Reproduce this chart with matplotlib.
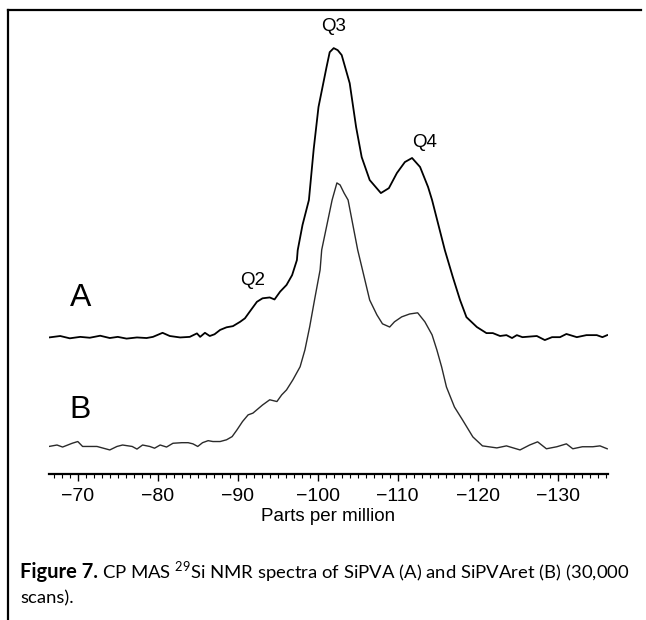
import matplotlib
matplotlib.use("Agg")
import matplotlib.pyplot as plt
from matplotlib.lines import Line2D
from matplotlib.ticker import MultipleLocator, FixedLocator

# Spectrum A (SiPVA): chemical shift (ppm) and intensity above its own baseline
ppm_a = [-66.4, -67.8, -69.0, -70.3, -71.5, -72.8, -74.0, -75.0, -76.1, -77.4,
         -78.6, -79.4, -80.6, -81.5, -82.8, -84.0, -84.9, -85.3, -85.9, -86.5,
         -87.1, -87.8, -88.6, -89.4, -90.3, -90.9, -91.5, -92.4, -93.1, -94.0,
         -94.6, -95.3, -96.1, -96.8, -97.4, -97.5, -98.1, -98.9, -99.5, -100.1,
         -101.1, -101.5, -102.0, -102.5, -103.0, -104.0, -104.8, -105.5, -106.5, -107.9,
         -108.9, -109.9, -110.9, -111.8, -112.8, -113.8, -114.3, -115.9, -116.9, -117.8,
         -118.6, -119.9, -121.1, -121.9, -122.8, -123.6, -124.3, -124.9, -125.6, -127.4,
         -128.4, -129.3, -130.3, -131.1, -132.4, -133.6, -134.9, -135.6, -136.2]
int_a = [0.2, 0.7, -0.1, 0.4, 0.1, 0.8, 0.0, 0.4, -0.2, 0.2,
         0.0, 0.4, 1.8, 0.7, 0.2, 0.4, 1.6, 0.4, 1.8, 0.7,
         1.3, 2.8, 3.7, 4.1, 5.6, 6.8, 9.1, 12.5, 13.7, 14.0,
         13.3, 16.0, 18.3, 21.7, 26.9, 30.3, 39.0, 47.6, 65.2, 79.7,
         93.4, 98.6, 100.0, 99.3, 97.6, 87.9, 72.8, 62.4, 54.5, 50.0,
         51.7, 56.9, 60.7, 62.1, 59.0, 52.1, 47.6, 30.3, 21.0, 13.1,
         7.2, 3.8, 1.7, 1.7, 0.7, 1.0, 0.0, 1.0, 0.3, 0.7,
         -0.7, 0.3, 0.3, 1.4, 0.3, 1.0, 1.0, 0.3, 1.0]

# Spectrum B (SiPVAret)
ppm_b = [-66.4, -67.4, -68.1, -69.3, -70.0, -70.6, -71.3, -72.4, -74.0, -74.9,
         -75.6, -76.8, -77.4, -78.1, -79.0, -79.6, -80.3, -81.1, -81.9, -83.0,
         -83.8, -84.4, -85.0, -85.6, -86.3, -86.9, -87.8, -88.6, -89.3, -89.9,
         -90.6, -91.3, -91.9, -92.5, -93.1, -94.0, -94.9, -95.5, -96.1, -96.9,
         -97.8, -98.4, -99.0, -99.6, -100.3, -100.5, -101.8, -102.4, -102.8, -103.3,
         -103.8, -105.0, -105.6, -106.5, -107.4, -108.1, -109.0, -109.6, -110.5, -111.5,
         -112.5, -113.4, -114.3, -114.9, -115.5, -116.1, -117.1, -118.1, -119.4, -120.6,
         -122.4, -123.6, -125.3, -126.5, -127.5, -128.6, -129.9, -131.1, -131.9, -133.1,
         -134.4, -135.3, -136.2]
int_b = [-0.2, 0.3, -0.4, 0.9, 1.5, -0.2, -0.2, -0.2, -1.4, -0.2,
         0.3, -0.2, -1.1, 0.3, -0.2, -0.8, 0.3, -0.4, 0.9, 1.1,
         1.1, 0.7, -0.2, 1.1, 1.8, 1.5, 1.5, 2.1, 3.2, 5.5,
         8.4, 10.7, 11.3, 12.7, 14.1, 15.9, 15.3, 17.6, 19.3, 22.8,
         27.3, 33.1, 41.1, 50.3, 60.7, 67.6, 84.8, 90.7, 90.0, 87.2,
         84.8, 67.6, 60.7, 50.3, 45.2, 42.1, 41.0, 42.8, 44.5, 45.5,
         45.9, 42.8, 38.3, 33.1, 27.2, 20.3, 13.4, 9.0, 3.1, 0.0,
         -0.7, 0.0, -1.4, 0.3, 1.4, -1.0, -0.3, 0.7, -1.0, -0.3,
         -0.3, 0.0, -1.0]

offset_a = 37.2  # vertical shift of trace A above trace B

peak_labels = ["Q2", "Q3", "Q4"]
peak_pos = [(-91.9, 57.2), (-102.0, 144.5), (-113.3, 104.8)]
trace_labels = ["A", "B"]
trace_pos = [(-70.3, 51.0), (-70.3, 12.4)]

major_ticks = [-70, -80, -90, -100, -110, -120, -130]

sans = "Liberation Sans"
caption_font = "Lato"
plt.rcParams["mathtext.fontset"] = "custom"
plt.rcParams["mathtext.rm"] = caption_font

fig = plt.figure(figsize=(6.46, 6.20), dpi=100)
ax = fig.add_axes([49 / 646, 1 - 474 / 620, 559 / 646, 454 / 620])

ax.plot(ppm_a, [v + offset_a for v in int_a], color="black", lw=1.3)
ax.plot(ppm_b, int_b, color="#2a2a2a", lw=1.0)

ax.set_xlim(-66.4, -136.3)
ax.set_ylim(-9.7, 146.9)

for s in ["left", "right", "top"]:
    ax.spines[s].set_visible(False)
ax.spines["bottom"].set_linewidth(1.6)
ax.set_yticks([])
ax.xaxis.set_major_locator(FixedLocator(major_ticks))
ax.xaxis.set_minor_locator(MultipleLocator(1))
ax.tick_params(axis="x", which="major", direction="out", length=5, width=1.0,
               labelsize=14, pad=5)
ax.tick_params(axis="x", which="minor", direction="out", length=3, width=0.8)
for lbl in ax.get_xticklabels():
    lbl.set_family(sans)
ax.set_xlabel("Parts per million", fontsize=13.5, family=sans, labelpad=2)

for txt, (x, y) in zip(peak_labels, peak_pos):
    ax.text(x, y, txt, fontsize=13.5, family=sans, ha="center", va="center")
for txt, (x, y) in zip(trace_labels, trace_pos):
    ax.text(x, y, txt, fontsize=23, family=sans, ha="center", va="center")

# frame around the figure panel (top and left edges only)
fig.add_artist(Line2D([8 / 646, 8 / 646], [0, 1 - 10 / 620],
                      transform=fig.transFigure, color="black", lw=1.6))
fig.add_artist(Line2D([8 / 646, 641 / 646], [1 - 10 / 620, 1 - 10 / 620],
                      transform=fig.transFigure, color="black", lw=1.6))

# caption
cap_y1 = 1 - 572 / 620
cap_y2 = 1 - 598 / 620
bold = fig.text(20 / 646, cap_y1, "Figure 7.", fontsize=14.5, family=caption_font,
                weight="bold", va="center")
fig.canvas.draw()
r = fig.canvas.get_renderer()
bb = bold.get_window_extent(renderer=r)
fig.text(bb.x1 / 646 + 4 / 646, cap_y1,
         r"CP MAS $^{29}$Si NMR spectra of SiPVA (A) and SiPVAret (B) (30,000",
         fontsize=13.3, family=caption_font, va="center")
fig.text(20 / 646, cap_y2, "scans).", fontsize=13.3, family=caption_font, va="center")

fig.savefig("out.png", dpi=100)
